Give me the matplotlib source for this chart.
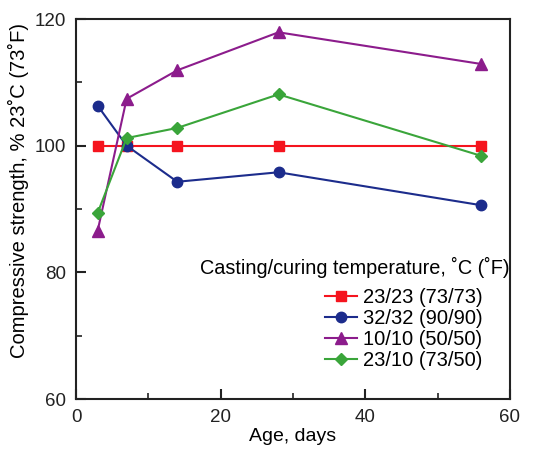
import matplotlib
matplotlib.use("Agg")
import matplotlib.pyplot as plt
from matplotlib.ticker import MultipleLocator

# age in days and strength relative to 23 C curing, %
AGE = [3, 7, 14, 28, 56]
S_23_23 = [100.0, 100.0, 100.0, 100.0, 100.0]
S_32_32 = [106.3, 100.0, 94.3, 95.8, 90.6]
S_10_10 = [86.6, 107.4, 111.9, 117.9, 112.9]
S_23_10 = [89.4, 101.2, 102.8, 108.1, 98.4]
LABELS = ["23/23 (73/73)", "32/32 (90/90)", "10/10 (50/50)", "23/10 (73/50)"]

COLORS = ["#f5141e", "#1c2c8c", "#8c1c8c", "#3aa53a"]
MARKERS = ["s", "o", "^", "D"]
SIZES = [7, 7.5, 8, 6.5]

plt.rcParams["font.family"] = ["Liberation Sans", "DejaVu Sans"]

fig = plt.figure(figsize=(5.47, 4.5), dpi=100)
ax = fig.add_axes([76 / 547, 51 / 450, 434 / 547, 380 / 450])

series = [S_23_23, S_32_32, S_10_10, S_23_10]
for ys, lab, c, m, ms in zip(series, LABELS, COLORS, MARKERS, SIZES):
    ax.plot(AGE, ys, color=c, marker=m, ms=ms, lw=1.5, label=lab)

ax.set_xlim(0, 60)
ax.set_ylim(60, 120)
ax.xaxis.set_major_locator(MultipleLocator(20))
ax.xaxis.set_minor_locator(MultipleLocator(10))
ax.yaxis.set_major_locator(MultipleLocator(20))
ax.yaxis.set_minor_locator(MultipleLocator(10))
ax.tick_params(which="both", direction="in", labelsize=13.5, colors="#222222", pad=7)
ax.tick_params(which="major", length=7, width=1.5)
ax.tick_params(which="minor", length=4, width=1.2)
for s in ax.spines.values():
    s.set_linewidth(1.5)
    s.set_color("#222222")

ax.set_xlabel("Age, days", fontsize=14, va="top")
ax.xaxis.set_label_coords(0.5, -0.077)
ax.set_ylabel("Compressive strength, % 23˚C (73˚F)", fontsize=14.5)
ax.yaxis.set_label_coords(-0.108, 0.55)

ax.text(1.0, 0.345, "Casting/curing temperature, ˚C (˚F)", transform=ax.transAxes,
        ha="right", va="center", fontsize=14.3)
ax.legend(loc="upper left", bbox_to_anchor=(0.574, 0.292), frameon=False,
          fontsize=14.5, handlelength=1.6, handletextpad=0.3, labelspacing=0.1,
          borderaxespad=0, borderpad=0)

fig.savefig("out.png", dpi=100, facecolor="white")
